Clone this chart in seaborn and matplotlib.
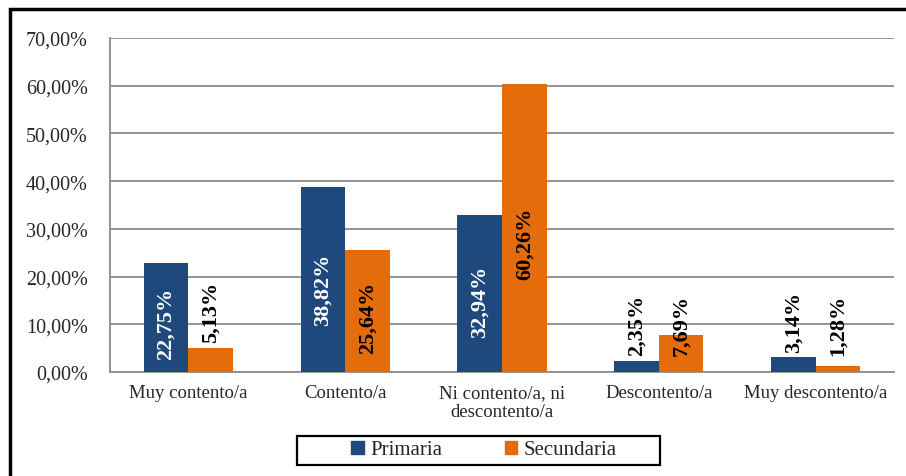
import matplotlib
matplotlib.use("Agg")
import matplotlib.pyplot as plt
from matplotlib.patches import Rectangle
from matplotlib.ticker import FuncFormatter, FixedLocator
import seaborn as sns
import pandas as pd

# datos del gráfico
categorias = ["Muy contento/a", "Contento/a", "Ni contento/a, ni\ndescontento/a",
              "Descontento/a", "Muy descontento/a"]
primaria = [22.75, 38.82, 32.94, 2.35, 3.14]
secundaria = [5.13, 25.64, 60.26, 7.69, 1.28]
series = ["Primaria", "Secundaria"]
colores = ["#1F497D", "#E46C0A"]

df = pd.DataFrame({
    "categoria": categorias * 2,
    "valor": primaria + secundaria,
    "nivel": [series[0]] * len(categorias) + [series[1]] * len(categorias),
})

sns.set_style("white")
plt.rcParams["font.family"] = ["Liberation Serif", "DejaVu Serif"]

fig = plt.figure(figsize=(9.06, 4.77), dpi=100)
ax = fig.add_axes([110 / 906, 104 / 477, (894 - 110) / 906, (373 - 39) / 477])

sns.barplot(data=df, x="categoria", y="valor", hue="nivel", palette=colores,
            width=0.57, saturation=1, ax=ax, legend=True, zorder=3, linewidth=0)

ax.set_ylim(0, 70)
ax.set_xlim(-0.5, len(categorias) - 0.5)
ax.yaxis.set_major_locator(FixedLocator(range(0, 71, 10)))
ax.yaxis.set_major_formatter(FuncFormatter(lambda v, p: f"{v:.2f}%".replace(".", ",")))
ax.grid(axis="y", color="#8c8c8c", linewidth=1.3, zorder=0)
ax.set_xlabel("")
ax.set_ylabel("")

for lado in ["top", "right"]:
    ax.spines[lado].set_visible(False)
for lado in ["left", "bottom"]:
    ax.spines[lado].set_color("#8c8c8c")
    ax.spines[lado].set_linewidth(1.3)

ax.tick_params(axis="y", length=6, color="#8c8c8c", width=1.3, labelsize=14.5, pad=10)
ax.tick_params(axis="x", which="major", length=0, labelsize=13.5, pad=9)
for lab in ax.get_xticklabels():
    lab.set_linespacing(1.15)
ax.set_xticks([i - 0.5 for i in range(len(categorias) + 1)], minor=True)
ax.tick_params(axis="x", which="minor", length=5, color="#8c8c8c", width=1.3)

# etiquetas de datos
for k, cont in enumerate(ax.containers):
    for barra in cont:
        v = barra.get_height()
        xc = barra.get_x() + barra.get_width() / 2
        if v >= 10:
            yc = v * 0.45
            color = "white" if k == 0 else "black"
        elif v < 6:
            # etiqueta por encima de la barra
            yc = max(9.9, v + 7.5)
            color = "black"
        else:
            yc = max(v / 2, 9.9)
            color = "black"
        ax.text(xc, yc, f"{v:.2f}%".replace(".", ","), rotation=90,
                ha="center", va="center", fontsize=16, fontweight="bold",
                color=color, zorder=5)

# leyenda sin marco y recuadro dibujado aparte
ax.get_legend().remove()
handles = [Rectangle((0, 0), 1, 1, color=c) for c in colores]
fig.legend(handles, series, loc="center", bbox_to_anchor=(484 / 906, 1 - 451 / 477),
           ncol=2, fontsize=15, frameon=False,
           handlelength=0.6, handleheight=0.6, handletextpad=0.3,
           columnspacing=3.0, borderpad=0, borderaxespad=0)
fig.patches.append(Rectangle((297 / 906, 1 - 466 / 477), 363 / 906, 29 / 477,
                             transform=fig.transFigure, fill=False,
                             edgecolor="black", linewidth=1.6))

# marco exterior
fig.patches.append(Rectangle((10 / 906, -0.1), 1.2, 1 - 10 / 477 + 0.1,
                             transform=fig.transFigure, fill=False,
                             edgecolor="black", linewidth=2.5))

fig.savefig("out.png", dpi=100, facecolor="white")
